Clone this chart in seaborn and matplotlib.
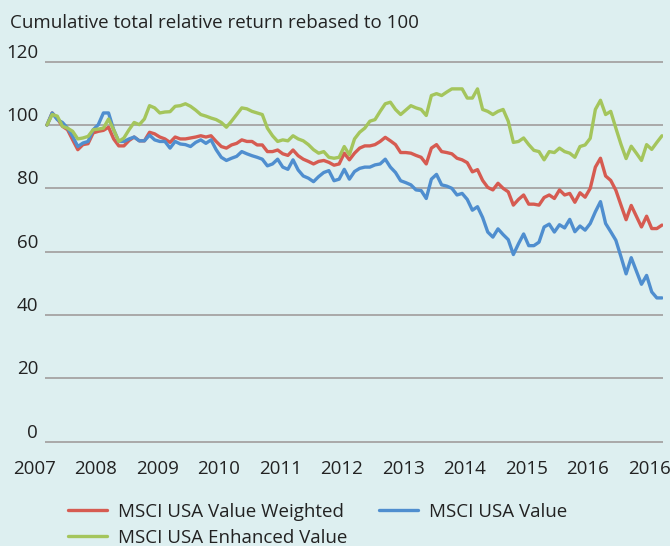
import numpy as np
import pandas as pd
import matplotlib
matplotlib.use("Agg")
import matplotlib.pyplot as plt
import seaborn as sns

# ── Data (monthly points) ─────────────────────────────────────────────────────

value_weighted = [
    100, 103.8, 102, 99.6, 98.5, 95.3, 92.2, 93.8, 94.1, 97.5, 98, 98.3, 99.3, 95.6, 93.4, 93.4, 95.1, 96.2, 95, 95, 97.7,
    97.2, 96.2, 95.6, 94.5, 96.2, 95.6, 95.6, 95.9, 96.2, 96.6, 96.2, 96.6, 94.8, 93.2, 92.7, 93.7, 94.2, 95.3, 94.8, 94.8,
    93.7, 93.7, 91.6, 91.6, 92.1, 90.9, 90.4, 92.1, 90.3, 89.2, 88.5, 87.7, 88.5, 88.8, 88.2, 87.3, 87.7, 91.1, 89, 91.1, 92.7,
    93.4, 93.4, 93.8, 94.8, 96.1, 95, 93.8, 91.3, 91.3, 91.1, 90.4, 89.8, 87.7, 92.7, 93.8, 91.6, 91.3, 90.9, 89.5, 89,
    88.1, 85.2, 85.9, 82.5, 80.3, 79.5, 81.6, 80, 78.9, 74.7, 76.5, 77.9, 75, 75, 74.7, 77.1, 77.9, 76.8, 79.5, 77.9, 78.4,
    75.6, 78.6, 77.2, 80, 86.7, 89.5, 83.9, 82.5, 79.4, 74.7, 70.1, 74.6, 71.2, 67.8, 71.2, 67.3, 67.3, 68.4,
]

value = [
    100, 103.8, 101.7, 100.8, 99, 96.4, 93.2, 94.3, 94.8, 98.5, 100.1, 103.8, 103.8, 98.5, 94.8, 94.8, 95.6, 96.2, 95, 95, 96.8,
    95.3, 94.8, 94.8, 92.7, 94.8, 94, 93.8, 93.2, 94.5, 95.3, 94.2, 95.3, 92.2, 89.8, 88.8, 89.5, 90.1, 91.6, 90.9, 90.3,
    89.8, 89.2, 87.1, 87.7, 89.2, 86.7, 86, 89, 85.8, 83.9, 83.2, 82.1, 83.7, 85, 85.6, 82.4, 82.9, 86, 82.9, 85.3, 86.3,
    86.7, 86.7, 87.4, 87.7, 89.2, 86.7, 85, 82.4, 81.8, 81.1, 79.5, 79.3, 76.8, 82.9, 84.4, 81.1, 80.7, 80, 77.9, 78.4,
    76.5, 73.1, 74.2, 70.8, 66.2, 64.6, 67.2, 65.4, 63.8, 59.1, 62.5, 65.6, 61.9, 61.9, 63, 67.8, 68.7, 66.2, 68.5, 67.5, 70.2,
    66.3, 68.1, 66.8, 68.9, 72.6, 75.8, 68.9, 66.3, 63.6, 58.4, 53, 58.1, 53.9, 49.7, 52.5, 47.3, 45.4, 45.4,
]

enhanced_value = [
    100, 103.3, 102.8, 99.6, 99, 98, 95.6, 95.9, 96.4, 98.5, 98.7, 99, 101.9, 98.5, 94.8, 95.9, 98.5, 100.8, 100.1, 101.9, 106.1,
    105.4, 103.8, 104.1, 104.2, 105.9, 106.1, 106.7, 105.9, 104.7, 103.3, 102.8, 102.2, 101.7, 100.8, 99.3, 101.2, 103.3, 105.4, 105.1, 104.3,
    103.8, 103.3, 99, 96.6, 94.8, 95.3, 95, 96.6, 95.6, 95, 93.8, 92.2, 91.1, 91.6, 89.8, 89.5, 89.8, 93.2, 90.6, 95.6, 97.7,
    99, 101.2, 101.7, 104.3, 106.7, 107.2, 104.9, 103.3, 104.7, 106.1, 105.4, 104.9, 103, 109.3, 109.9, 109.3, 110.4, 111.4, 111.4, 111.4,
    108.5, 108.5, 111.4, 104.9, 104.3, 103.3, 104.3, 104.9, 101.2, 94.5, 94.8, 95.9, 93.8, 92, 91.6, 89, 91.6, 91.3, 92.7, 91.6, 91.1,
    89.8, 93.2, 93.7, 95.8, 104.9, 107.8, 103.3, 104.3, 99, 93.9, 89.4, 93.3, 91.1, 88.8, 93.8, 92.3, 94.5, 96.6,
]

year_labels = ["2007", "2008", "2009", "2010", "2011", "2012",
               "2013", "2014", "2015", "2016", "2016"]
y_ticks = [0, 20, 40, 60, 80, 100, 120]

series_names = ["MSCI USA Value Weighted", "MSCI USA Value", "MSCI USA Enhanced Value"]
colors = ["#d65b51", "#4f8ecf", "#a4c55c"]
bg = "#ddeff0"
text_color = "#222222"
fs = 13.5

# ── Long-form table ───────────────────────────────────────────────────────────

frames = []
for name, vals in zip(series_names, [value_weighted, value, enhanced_value]):
    frames.append(pd.DataFrame({"month": np.arange(len(vals)), "index": vals, "series": name}))
df = pd.concat(frames, ignore_index=True)

# ── Plot ──────────────────────────────────────────────────────────────────────

sns.set_style("white", {"axes.facecolor": bg, "figure.facecolor": bg})
plt.rcParams["font.family"] = ["Open Sans", "DejaVu Sans"]

fig = plt.figure(figsize=(6.7, 5.46), dpi=100)
ax = fig.add_axes([45 / 670, 0.1852, 618 / 670, 0.8929 - 0.1852])

sns.lineplot(data=df, x="month", y="index", hue="series", hue_order=series_names,
             palette=colors, linewidth=2.4, ax=ax, legend=True)

ax.set_xlim(-0.4, 120.2)
ax.set_ylim(-1, 121)
ax.set_yticks(y_ticks)
ax.set_yticklabels([str(t) for t in y_ticks], fontsize=fs, color=text_color)
for lab in ax.get_yticklabels():
    lab.set_verticalalignment("bottom")
ax.tick_params(axis="y", length=0, pad=5)
ax.set_xticks([])
ax.set_xlabel("")
ax.set_ylabel("")
for s in ax.spines.values():
    s.set_visible(False)
for t in y_ticks:
    ax.axhline(t, color="#a9a9a9", linewidth=1.4, zorder=0)

# year labels sit every 12 months, offset half a period to the left
for k, lab in enumerate(year_labels):
    ax.annotate(lab, xy=(12 * k - 2.5, 0), xycoords=("data", "axes fraction"),
                xytext=(0, -11), textcoords="offset points",
                ha="center", va="top", fontsize=fs, color=text_color,
                annotation_clip=False)

fig.text(10 / 670, 1 - 23 / 546, "Cumulative total relative return rebased to 100",
         fontsize=fs, color=text_color, va="center", ha="left")

handles, labels = ax.get_legend_handles_labels()
ax.get_legend().remove()
order = [0, 2, 1]
fig.legend([handles[i] for i in order], [labels[i] for i in order],
           loc="upper left", bbox_to_anchor=(68 / 670, 1 - 503 / 546),
           ncol=2, frameon=False, fontsize=fs, handlelength=2.1,
           handletextpad=0.55, columnspacing=1.7, labelspacing=0.42,
           borderpad=0, borderaxespad=0, labelcolor=text_color)

fig.savefig("out.png", dpi=100, facecolor=bg)
